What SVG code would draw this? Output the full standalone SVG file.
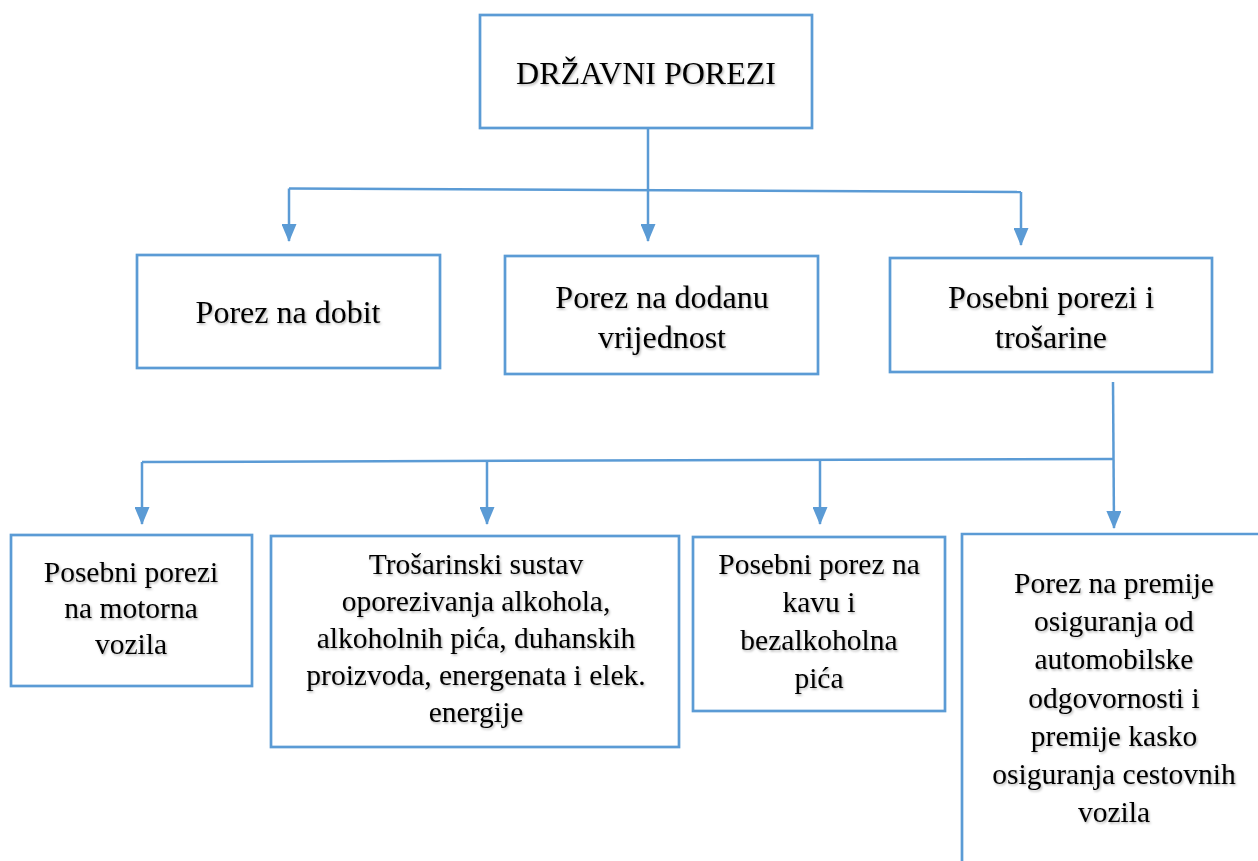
<svg xmlns="http://www.w3.org/2000/svg" width="1258" height="861" viewBox="0 0 1258 861">
  <defs>
    <style>
      .box { fill: #ffffff; stroke: #5B9BD5; stroke-width: 2.7; }
      .open { fill: none; stroke: #5B9BD5; stroke-width: 2.7; }
      .ln { fill: none; stroke: #5B9BD5; stroke-width: 2.5; }
      .t { font-family: "Liberation Serif", "Times New Roman", serif; fill: #000000; text-anchor: middle; filter: url(#sh); }
      .t32 { font-size: 32px; }
      .t30 { font-size: 29.5px; }
    </style>
    <filter id="sh" x="-10%" y="-30%" width="120%" height="160%">
      <feDropShadow dx="1.2" dy="1.5" stdDeviation="1" flood-color="#000000" flood-opacity="0.3"/>
    </filter>
    <marker id="arr" viewBox="0 0 18 15" refX="17" refY="7.5" markerWidth="18" markerHeight="15" markerUnits="userSpaceOnUse" orient="auto">
      <path d="M0,0 L18,7.5 L0,15 Z" fill="#5B9BD5"/>
    </marker>
  </defs>
  <rect width="1258" height="861" fill="#ffffff"/>

  <g id="connectors">
    <line class="ln" x1="648" y1="128" x2="648" y2="241" marker-end="url(#arr)"/>
    <line class="ln" x1="289" y1="188.5" x2="1021" y2="192"/>
    <line class="ln" x1="289" y1="188.5" x2="289" y2="241" marker-end="url(#arr)"/>
    <line class="ln" x1="1021" y1="192" x2="1021" y2="245" marker-end="url(#arr)"/>
    <line class="ln" x1="1113" y1="382" x2="1114" y2="528" marker-end="url(#arr)"/>
    <line class="ln" x1="142" y1="462" x2="1113" y2="459"/>
    <line class="ln" x1="142" y1="462" x2="142" y2="524" marker-end="url(#arr)"/>
    <line class="ln" x1="487" y1="461" x2="487" y2="524" marker-end="url(#arr)"/>
    <line class="ln" x1="820" y1="460" x2="820" y2="524" marker-end="url(#arr)"/>
  </g>

  <g id="node-drzavni-porezi">
    <rect class="box" x="480" y="15" width="332" height="113"/>
    <text class="t t32" x="646" y="84">DRŽAVNI POREZI</text>
  </g>

  <g id="node-porez-na-dobit">
    <rect class="box" x="137" y="255" width="303" height="113"/>
    <text class="t t32" x="288" y="323">Porez na dobit</text>
  </g>

  <g id="node-pdv">
    <rect class="box" x="505" y="256" width="313" height="118"/>
    <text class="t t32" x="662" y="308">Porez na dodanu</text>
    <text class="t t32" x="662" y="348">vrijednost</text>
  </g>

  <g id="node-posebni-porezi">
    <rect class="box" x="890" y="258" width="322" height="114"/>
    <text class="t t32" x="1051" y="308">Posebni porezi i</text>
    <text class="t t32" x="1051" y="348">trošarine</text>
  </g>

  <g id="node-motorna-vozila">
    <rect class="box" x="11" y="535" width="241" height="151"/>
    <text class="t t30" x="131" y="582">Posebni porezi</text>
    <text class="t t30" x="131" y="618">na motorna</text>
    <text class="t t30" x="131" y="654">vozila</text>
  </g>

  <g id="node-trosarinski-sustav">
    <rect class="box" x="271" y="536" width="408" height="211"/>
    <text class="t t30" x="476" y="574">Trošarinski sustav</text>
    <text class="t t30" x="476" y="611">oporezivanja alkohola,</text>
    <text class="t t30" x="476" y="648">alkoholnih pića, duhanskih</text>
    <text class="t t30" x="476" y="685">proizvoda, energenata i elek.</text>
    <text class="t t30" x="476" y="722">energije</text>
  </g>

  <g id="node-kava">
    <rect class="box" x="693" y="537" width="252" height="174"/>
    <text class="t t30" x="819" y="574">Posebni porez na</text>
    <text class="t t30" x="819" y="612">kavu i</text>
    <text class="t t30" x="819" y="650">bezalkoholna</text>
    <text class="t t30" x="819" y="688">pića</text>
  </g>

  <g id="node-premije">
    <path class="open" d="M962,862 V534 H1260"/>
    <text class="t t30" x="1114" y="593">Porez na premije</text>
    <text class="t t30" x="1114" y="631">osiguranja od</text>
    <text class="t t30" x="1114" y="669">automobilske</text>
    <text class="t t30" x="1114" y="708">odgovornosti i</text>
    <text class="t t30" x="1114" y="746">premije kasko</text>
    <text class="t t30" x="1114" y="784">osiguranja cestovnih</text>
    <text class="t t30" x="1114" y="822">vozila</text>
  </g>
</svg>
